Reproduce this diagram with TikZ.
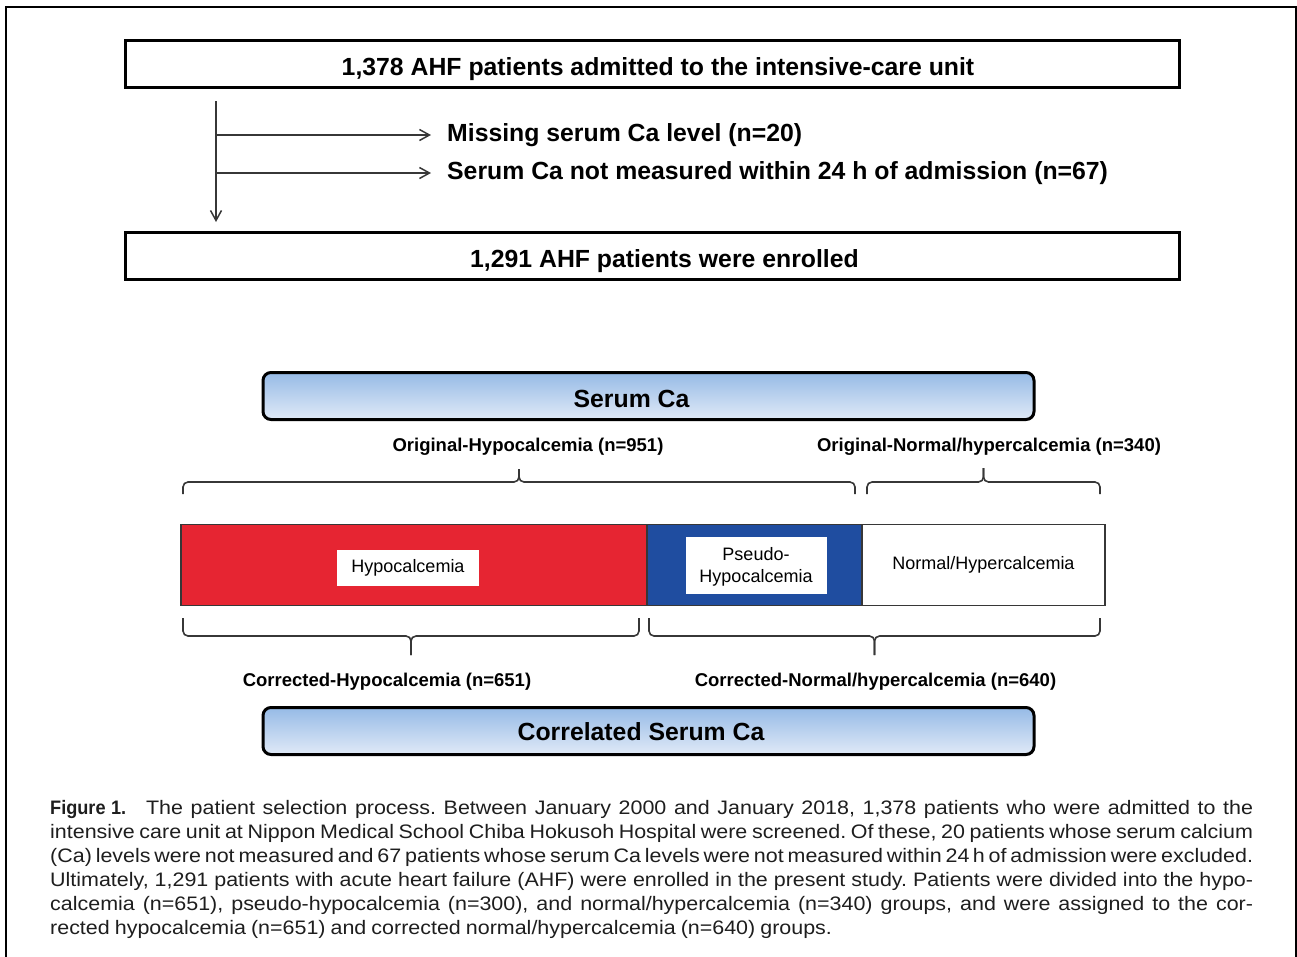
\documentclass[tikz,border=0pt]{standalone}
\usepackage{fontspec}
\setmainfont{Liberation Sans}
\newfontfamily\figfont{Liberation Sans}[FakeStretch=0.93]
\newfontfamily\capfont{Liberation Sans}[FakeStretch=1.1, WordSpace={0.85,6,1}]
\usetikzlibrary{arrows.meta}

\definecolor{hypored}{RGB}{230,37,50}
\definecolor{pseudoblue}{RGB}{31,77,160}
\definecolor{cabluetop}{RGB}{150,186,230}
\definecolor{cablubot}{RGB}{224,234,247}
\definecolor{linegray}{RGB}{55,55,55}
\definecolor{captext}{RGB}{30,30,30}

% x1, x2, y at the ends, y of the bar, y of the tip
\newcommand{\catbrace}[5]{%
  \draw[bracestyle] (#1,#3) -- (#1,#4) -- ({(#1+#2)/2},#4) -- ({(#1+#2)/2},#5);
  \draw[bracestyle] (#2,#3) -- (#2,#4) -- ({(#1+#2)/2},#4) -- ({(#1+#2)/2},#5);
}

\begin{document}
\begin{tikzpicture}[x=1pt,y=-1pt,
    bigfont/.style={font=\fontsize{24.8}{29}\selectfont\bfseries},
    flowbox/.style={draw, line width=3pt, minimum width=1054pt, minimum height=47pt,
      inner sep=0pt, bigfont, text height=23.8pt, text depth=0pt},
    exclabel/.style={bigfont, inner xsep=16pt, inner ysep=0pt, anchor=west,
      text height=17.8pt, text depth=0pt},
    flowarrow/.style={draw=linegray, line width=1.5pt, -{Straight Barb[length=10pt,width=11pt,line width=1.5pt]}},
    cabox/.style={draw, line width=3pt, rounded corners=8pt, minimum width=771pt,
      minimum height=47pt, inner sep=0pt, top color=cabluetop, bottom color=cablubot,
      bigfont, text height=23.8pt, text depth=0pt},
    grouplabel/.style={font=\fontsize{18.5}{22}\selectfont\bfseries, anchor=base, inner sep=0pt},
    barpart/.style={draw=linegray, line width=1.2pt, minimum height=81pt, inner sep=0pt},
    innerlabel/.style={fill=white, draw=white, inner sep=0pt, align=center,
      font=\fontsize{18}{22}\selectfont},
    bracestyle/.style={draw=linegray, line width=1.6pt, rounded corners=5pt},
    capline/.style={anchor=base west, inner sep=0pt, text=captext,
      font=\capfont\fontsize{19.5}{24}\selectfont\frenchspacing}]
  \useasboundingbox (0,0) rectangle (1297,956);
  \draw[line width=2pt] (6,957) -- (6,7) -- (1296,7) -- (1296,957);

  % selection flow
  \node[flowbox] (screened) at (652,64) {\hspace*{12pt}1,378 AHF patients admitted to the intensive-care unit};
  \node[flowbox] (enrolled) at (652,255.5) {\hspace*{25pt}1,291 AHF patients were enrolled};
  \coordinate (trunktop) at (216,101);
  \coordinate (trunkend) at (216,222);
  \coordinate (branchA) at (216,135);
  \coordinate (branchB) at (216,173);
  \node[exclabel] (missing) at (431,133) {Missing serum Ca level (n=20)};
  \node[exclabel] (late) at (431,171) {Serum Ca not measured within 24 h of admission (n=67)};
  \draw[flowarrow] (trunktop) -- (trunkend);
  \draw[flowarrow] (branchA) -- (branchA -| missing.west);
  \draw[flowarrow] (branchB) -- (branchB -| late.west);

  % serum Ca groups
  \node[cabox] (serum) at (648.5,396) {\hspace*{-34pt}Serum Ca};
  \node[grouplabel] (orighypo) at (528,451) {Original-Hypocalcemia (n=951)};
  \node[grouplabel] (orignorm) at (989,451) {Original-Normal/hypercalcemia (n=340)};
  \catbrace{183}{855}{494}{482}{469}
  \catbrace{867}{1100}{494}{482}{468}

  \node[barpart, fill=hypored, minimum width=466pt] (hypo) at (414,565) {};
  \node[barpart, fill=pseudoblue, minimum width=215pt] (pseudo) at (754.5,565) {};
  \node[barpart, fill=white, minimum width=243pt, font=\fontsize{18}{22}\selectfont] (normal) at (983.5,565) {Normal/Hypercalcemia};
  \node[innerlabel, minimum width=141pt, minimum height=35pt] (hypotext) at (408,568) {Hypocalcemia};
  \node[innerlabel, minimum width=140pt, minimum height=56pt, text depth=-1pt] (pseudotext) at (756,565) {Pseudo-\\Hypocalcemia};

  \catbrace{183}{639}{618}{636}{655}
  \catbrace{649}{1100}{618}{636}{655}
  \node[grouplabel] (corrhypo) at (387,686) {Corrected-Hypocalcemia (n=651)};
  \node[grouplabel] (corrnorm) at (875.5,686) {Corrected-Normal/hypercalcemia (n=640)};
  \node[cabox, text height=18pt] (correlated) at (648.5,731) {\hspace*{-15pt}Correlated Serum Ca};

  % caption
  \node[capline] (cap1) at (50,814) {\makebox[1203pt][s]{{\figfont\bfseries Figure 1.}\hspace{20pt}The patient selection process. Between January 2000 and January 2018, 1,378 patients who were admitted to the}};
  \node[capline] (cap2) at (50,838) {\makebox[1203pt][s]{intensive care unit at Nippon Medical School Chiba Hokusoh Hospital were screened. Of these, 20 patients whose serum calcium}};
  \node[capline] (cap3) at (50,862) {\makebox[1203pt][s]{(Ca) levels were not measured and 67 patients whose serum Ca levels were not measured within 24\,h of admission were excluded.}};
  \node[capline] (cap4) at (50,886) {\makebox[1203pt][s]{Ultimately, 1,291 patients with acute heart failure (AHF) were enrolled in the present study. Patients were divided into the hypo-}};
  \node[capline] (cap5) at (50,910) {\makebox[1203pt][s]{calcemia (n=651), pseudo-hypocalcemia (n=300), and normal/hypercalcemia (n=340) groups, and were assigned to the cor-}};
  \node[capline] (cap6) at (50,934) {rected hypocalcemia (n=651) and corrected normal/hypercalcemia (n=640) groups.};
\end{tikzpicture}
\end{document}
